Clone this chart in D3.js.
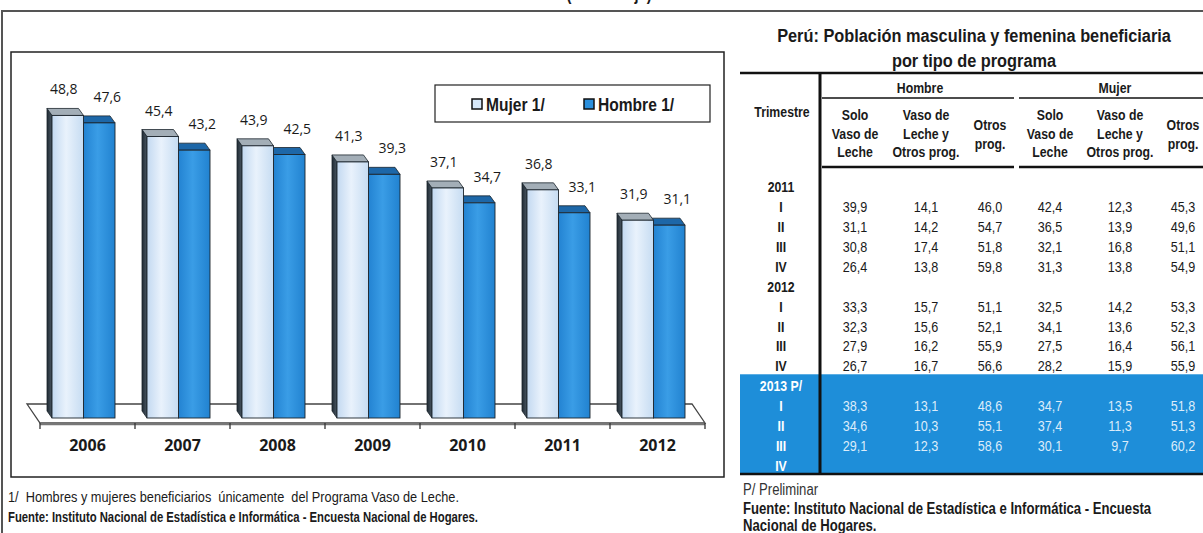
<!DOCTYPE html>
<html lang="es">
<head>
<meta charset="utf-8">
<title>Perú: Vaso de Leche</title>
<script src="https://cdn.jsdelivr.net/npm/d3@7"></script>
<style>
  body { margin: 0; background: #fff; }
  svg text { fill: #1a1a1a; }
  .narrow { font-family: "Liberation Sans", Arial, sans-serif; }
  .open { font-family: "Open Sans", "DejaVu Sans", sans-serif; }
</style>
</head>
<body>
<script>

// ---- chart data ----
var years = ["2006", "2007", "2008", "2009", "2010", "2011", "2012"];
var mujer = [48.8, 45.4, 43.9, 41.3, 37.1, 36.8, 31.9];
var hombre = [47.6, 43.2, 42.5, 39.3, 34.7, 33.1, 31.1];
var seriesNames = ["Mujer 1/", "Hombre 1/"];

// ---- table data ----
var tableTitle = ["Perú: Población masculina y femenina beneficiaria", "por tipo de programa"];
var rowLabels = ["2011", "I", "II", "III", "IV", "2012", "I", "II", "III", "IV", "2013 P/", "I", "II", "III", "IV"];
var groupNames = ["Hombre", "Mujer"];
var colHeaders = [["Solo", "Vaso de", "Leche"], ["Vaso de", "Leche y", "Otros prog."], ["Otros", "prog."]];
var hSolo   = [null, 39.9, 31.1, 30.8, 26.4, null, 33.3, 32.3, 27.9, 26.7, null, 38.3, 34.6, 29.1, null];
var hVasoOt = [null, 14.1, 14.2, 17.4, 13.8, null, 15.7, 15.6, 16.2, 16.7, null, 13.1, 10.3, 12.3, null];
var hOtros  = [null, 46.0, 54.7, 51.8, 59.8, null, 51.1, 52.1, 55.9, 56.6, null, 48.6, 55.1, 58.6, null];
var mSolo   = [null, 42.4, 36.5, 32.1, 31.3, null, 32.5, 34.1, 27.5, 28.2, null, 34.7, 37.4, 30.1, null];
var mVasoOt = [null, 12.3, 13.9, 16.8, 13.8, null, 14.2, 13.6, 16.4, 15.9, null, 13.5, 11.3, 9.7, null];
var mOtros  = [null, 45.3, 49.6, 51.1, 54.9, null, 53.3, 52.3, 56.1, 55.9, null, 51.8, 51.3, 60.2, null];

var fmt = function(v) { return d3.format(".1f")(v).replace(".", ","); };

var W = 1203, H = 533;
var svg = d3.select("body").append("svg")
    .attr("width", W)
    .attr("height", H);

// condensed text: Liberation Sans squeezed horizontally (no narrow face installed)
function ntext(g, x, y, str, size, bold, anchor, fill, sx) {
    return g.append("text").attr("class", "narrow")
        .attr("transform", "translate(" + x + "," + y + ") scale(" + (sx || 0.82) + ",1)")
        .attr("text-anchor", anchor || "start")
        .style("font-size", size + "px")
        .style("font-weight", bold ? "bold" : "normal")
        .style("fill", fill || "#1a1a1a")
        .text(str);
}

// gradients
var defs = svg.append("defs");
function hGrad(id, stops) {
    var g = defs.append("linearGradient").attr("id", id)
        .attr("x1", "0%").attr("x2", "100%").attr("y1", "0%").attr("y2", "0%");
    stops.forEach(function(s) {
        g.append("stop").attr("offset", s[0]).attr("stop-color", s[1]);
    });
}
hGrad("gMujer", [["0%", "#c3d9f1"], ["45%", "#e9f2fc"], ["100%", "#c6dcf2"]]);
hGrad("gHombre", [["0%", "#2383d2"], ["45%", "#3a9de6"], ["100%", "#2182d0"]]);
hGrad("gSide", [["0%", "#1f2a33"], ["100%", "#4a5763"]]);

// outer frame
svg.append("line").attr("x1", 2).attr("x2", W).attr("y1", 11).attr("y2", 11)
    .attr("stroke", "#555").attr("stroke-width", 2);
svg.append("line").attr("x1", 2).attr("x2", 2).attr("y1", 10).attr("y2", H)
    .attr("stroke", "#555").attr("stroke-width", 2);

// heading cut off at the very top, as in the source
ntext(svg, 609, 0, "(Porcentaje)", 18, true, "middle");

// ================= LEFT CHART =================
svg.append("rect")
    .attr("x", 11).attr("y", 52).attr("width", 713).attr("height", 425)
    .attr("fill", "#fff").attr("stroke", "#222").attr("stroke-width", 1.5);

var x = d3.scaleBand().domain(years).range([40, 705]).padding(0);
var y = d3.scaleLinear().domain([0, 50]).range([418, 108]);
var depthX = -5, depthY = -7;
var barW = 31.5, barOff = 12;

// floor
var fx0 = x.range()[0], fx1 = x.range()[1];
svg.append("polygon")
    .attr("points", [[fx0 - 13, 404], [fx1 - 13, 404], [fx1, 423], [fx0, 423]].join(" "))
    .attr("fill", "#fff").attr("stroke", "#444").attr("stroke-width", 1.3);
svg.append("line").attr("x1", fx0).attr("x2", fx1).attr("y1", 424).attr("y2", 424)
    .attr("stroke", "#777").attr("stroke-width", 2.5);

// tick marks between categories
var bounds = years.map(function(d) { return x(d); }).concat([fx1]);
svg.selectAll(".btick").data(bounds).enter().append("line")
    .attr("x1", function(d) { return d; }).attr("x2", function(d) { return d; })
    .attr("y1", 423).attr("y2", 429)
    .attr("stroke", "#333").attr("stroke-width", 1.3);

// year labels
var xAxis = d3.axisBottom(x).tickSize(0).tickPadding(17);
var gx = svg.append("g").attr("transform", "translate(0,423)").call(xAxis);
gx.select(".domain").remove();
gx.selectAll("text")
    .attr("class", "open")
    .style("font-size", "16px").style("font-weight", "bold")
    .attr("fill", "#1a1a1a");

function drawBar(g, x0, v, fill, topFill) {
    var yt = y(v), yb = y(0), x1 = x0 + barW;
    g.append("polygon")
        .attr("points", [[x0 + depthX, yt + depthY], [x0, yt], [x0, yb], [x0 + depthX, yb + depthY]].join(" "))
        .attr("fill", "url(#gSide)").attr("stroke", "#1b242c").attr("stroke-width", 0.8);
    g.append("polygon")
        .attr("points", [[x0, yt], [x1, yt], [x1 + depthX, yt + depthY], [x0 + depthX, yt + depthY]].join(" "))
        .attr("fill", topFill).attr("stroke", "#1b242c").attr("stroke-width", 0.8);
    g.append("rect")
        .attr("x", x0).attr("y", yt).attr("width", barW).attr("height", yb - yt)
        .attr("fill", fill).attr("stroke", "#1b242c").attr("stroke-width", 0.9);
}

var bars = svg.append("g");
years.forEach(function(yr, i) {
    var g = bars.append("g");
    var xm = x(yr) + barOff, xh = xm + barW;
    drawBar(g, xh, hombre[i], "url(#gHombre)", "#1d67a8");
    drawBar(g, xm, mujer[i], "url(#gMujer)", "#a3aeb7");
});

// value labels
svg.selectAll(".lblM").data(mujer).enter().append("text")
    .attr("class", "open")
    .attr("x", function(d, i) { return x(years[i]) + barOff + barW / 2 - 4; })
    .attr("y", function(d) { return y(d) + depthY - 14; })
    .attr("text-anchor", "middle")
    .style("font-size", "14px")
    .text(fmt);
svg.selectAll(".lblH").data(hombre).enter().append("text")
    .attr("class", "open")
    .attr("x", function(d, i) { return x(years[i]) + barOff + barW * 1.5 + 8; })
    .attr("y", function(d) { return y(d) + depthY - 14; })
    .attr("text-anchor", "middle")
    .style("font-size", "14px")
    .text(fmt);

// legend
var lg = svg.append("g");
lg.append("rect").attr("x", 435).attr("y", 85).attr("width", 275).attr("height", 37)
    .attr("fill", "#fff").attr("stroke", "#222").attr("stroke-width", 1.2);
var legX = [472, 584];
var legFill = ["#d6e7f8", "#2b8fdc"];
seriesNames.forEach(function(name, i) {
    lg.append("rect").attr("x", legX[i]).attr("y", 99).attr("width", 10).attr("height", 10)
        .attr("fill", legFill[i]).attr("stroke", "#111").attr("stroke-width", 1.5);
    ntext(lg, legX[i] + 14, 111, name, 19, true);
});

// left notes
ntext(svg, 8, 502, "1/  Hombres y mujeres beneficiarios  únicamente  del Programa Vaso de Leche.", 14.5, false, "start", "#1a1a1a", 0.88)
    .style("white-space", "pre");
ntext(svg, 8, 522, "Fuente: Instituto Nacional de Estadística e Informática - Encuesta Nacional de Hogares.", 14.5, true, "start", "#1a1a1a", 0.78);

// ================= RIGHT TABLE =================
var tb = svg.append("g");

tableTitle.forEach(function(t, i) {
    ntext(tb, 974, 42 + i * 25, t, 19, true, "middle", "#1a1a1a", 0.86);
});

var rowY = d3.scaleLinear().domain([0, rowLabels.length - 1]).range([187, 466]);
var colX = d3.scaleOrdinal().domain([0, 1, 2, 3, 4, 5]).range([855, 926, 990, 1050, 1120, 1183]);
var groupX = d3.scaleOrdinal().domain(groupNames).range([920, 1115]);

// blue band for the preliminary year
var firstPrelim = rowLabels.indexOf("2013 P/");
tb.append("rect")
    .attr("x", 740).attr("y", rowY(firstPrelim) - 12)
    .attr("width", W - 740).attr("height", 473 - (rowY(firstPrelim) - 12))
    .attr("fill", "#1e8ed9");

// rules
function rule(x1, x2, yy, w) {
    tb.append("line").attr("x1", x1).attr("x2", x2).attr("y1", yy).attr("y2", yy)
        .attr("stroke", "#111").attr("stroke-width", w);
}
rule(740, W, 73, 2.5);
rule(822, 1014, 98, 1.5);
rule(1019, W, 98, 1.5);
rule(822, 1014, 167, 2.5);
rule(1019, W, 167, 2.5);
rule(740, W, 474, 2.5);
tb.append("line").attr("x1", 820).attr("x2", 820).attr("y1", 72).attr("y2", 475)
    .attr("stroke", "#111").attr("stroke-width", 3);

// headers
ntext(tb, 782, 117, "Trimestre", 15, true, "middle");
groupNames.forEach(function(gname, gi) {
    ntext(tb, groupX(gname), 93, gname, 15, true, "middle");
    colHeaders.forEach(function(lines, ci) {
        var y0 = lines.length === 3 ? 120 : 130;
        lines.forEach(function(l, li) {
            ntext(tb, colX(gi * 3 + ci), y0 + li * 18.5, l, 15, true, "middle");
        });
    });
});

// row labels
var isPrelim = function(i) { return i >= firstPrelim; };
rowLabels.forEach(function(lab, i) {
    ntext(tb, 781, rowY(i) + 5, lab, 15, true, "middle", isPrelim(i) ? "#fff" : "#1a1a1a");
});

// values
var columns = [hSolo, hVasoOt, hOtros, mSolo, mVasoOt, mOtros];
columns.forEach(function(col, ci) {
    col.forEach(function(v, i) {
        if (v === null) return;
        ntext(tb, colX(ci), rowY(i) + 5, fmt(v), 14, false, "middle", isPrelim(i) ? "#dcecfa" : "#1a1a1a", 0.9);
    });
});

// right notes
ntext(svg, 743, 495, "P/ Preliminar", 16, false, "start", "#333");
ntext(svg, 743, 514, "Fuente: Instituto Nacional de Estadística e Informática - Encuesta", 16, true);
ntext(svg, 743, 531, "Nacional de Hogares.", 16, true);

</script>
</body>
</html>
